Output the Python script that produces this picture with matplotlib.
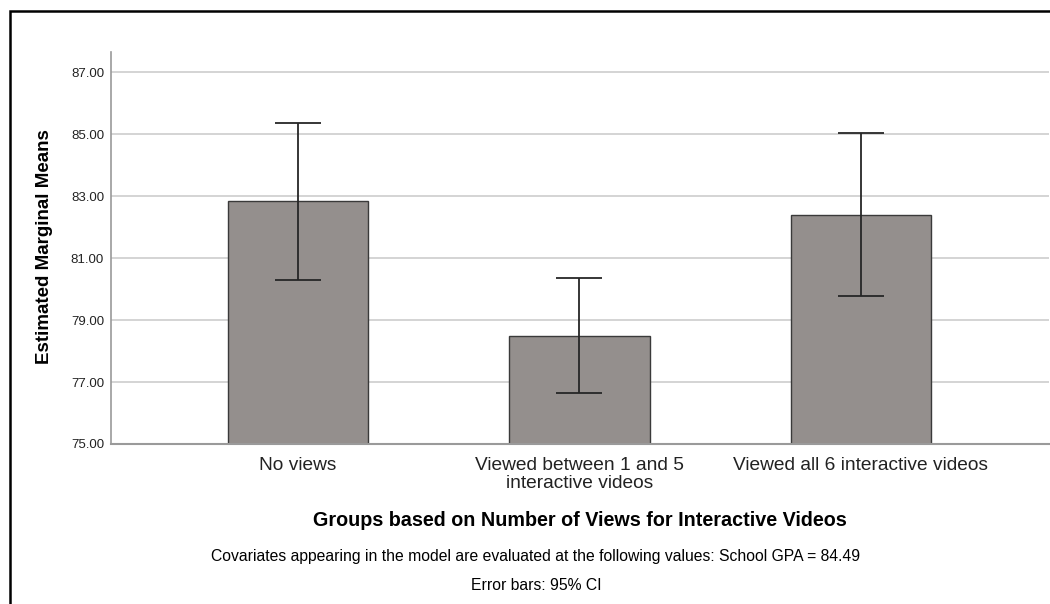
import matplotlib
matplotlib.use('Agg')
import matplotlib.pyplot as plt
import numpy as np
from matplotlib.patches import Rectangle

# data
groups = ['No views', 'Viewed between 1 and 5\ninteractive videos', 'Viewed all 6 interactive videos']
means = [82.84, 78.48, 82.39]
ci_low = [80.29, 76.63, 79.77]
ci_high = [85.35, 80.35, 85.02]
yticks = [75, 77, 79, 81, 83, 85, 87]

plt.rcParams['font.family'] = ['Liberation Sans', 'DejaVu Sans']

fig = plt.figure(figsize=(10.5, 6.04), dpi=100)
ax = fig.add_axes([111 / 1050, 1 - 444 / 604, 938 / 1050, 392 / 604])

x = np.arange(len(groups))
means = np.array(means)
err = [means - np.array(ci_low), np.array(ci_high) - means]

ax.set_axisbelow(True)
ax.yaxis.grid(True, color='#d4d4d4', linewidth=1.4)
ax.bar(x, means - 75, bottom=75, width=0.5, color='#948f8d', edgecolor='#3a3a3a', linewidth=1.0)
ax.errorbar(x, means, yerr=err, fmt='none', ecolor='#262626', elinewidth=1.3,
            capsize=16.5, capthick=1.3)

ax.set_xlim(-0.664, 2.668)
ax.set_ylim(75, 87.65)
ax.set_yticks(yticks)
ax.set_yticklabels(['%.2f' % v for v in yticks], fontsize=9.5, color='#222222')
ax.set_xticks(x)
ax.set_xticklabels(groups, fontsize=13.8, color='#222222', linespacing=1.15)
ax.tick_params(length=0, pad=5)
ax.tick_params(axis='x', pad=9)

for s in ['top', 'right']:
    ax.spines[s].set_visible(False)
ax.spines['left'].set_color('#9a9a9a')
ax.spines['bottom'].set_color('#9a9a9a')
ax.spines['left'].set_linewidth(1.2)
ax.spines['bottom'].set_linewidth(1.5)

fig.text(45 / 1050, 1 - 247 / 604, 'Estimated Marginal Means', rotation=90,
         ha='center', va='center', fontsize=13.5, fontweight='bold')
fig.text(580 / 1050, 1 - 520 / 604, 'Groups based on Number of Views for Interactive Videos',
         ha='center', va='center', fontsize=14.2, fontweight='bold')
fig.text(536 / 1050, 1 - 556 / 604,
         'Covariates appearing in the model are evaluated at the following values: School GPA = 84.49',
         ha='center', va='center', fontsize=11.3)
fig.text(536 / 1050, 1 - 586 / 604, 'Error bars: 95% CI', ha='center', va='center', fontsize=11.3)

# outer frame
fig.patches.append(Rectangle((10 / 1050, -0.1), 1.2, 1 - 11 / 604 + 0.1, transform=fig.transFigure,
                             fill=False, edgecolor='black', linewidth=1.8))

fig.savefig('out.png', dpi=100)
